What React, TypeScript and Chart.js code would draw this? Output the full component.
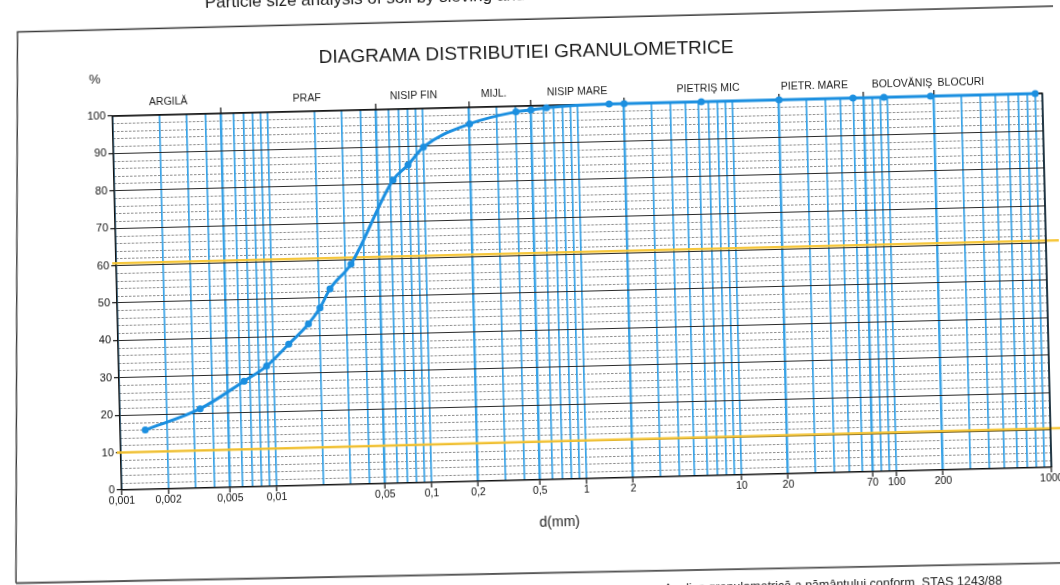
import React, { useEffect, useRef } from "react";
import { Chart, registerables } from "chart.js";

Chart.register(...registerables);

// ---- data ----
const grainDiameters = [
  0.00145, 0.0033, 0.0064, 0.009, 0.0126, 0.017, 0.0203, 0.0237, 0.0327, 0.063, 0.079, 0.1,
  0.2, 0.4, 0.5, 0.63, 1.6, 2, 6.3, 20, 60, 95, 190, 900,
];
const percentPassing = [
  15.9, 21.2, 28.3, 32.2, 37.9, 43.2, 47.4, 52.4, 58.9, 81.1, 85, 89.7,
  95.6, 98.5, 98.9, 99.4, 100, 100, 100, 100, 100, 100, 100, 100,
];
const xLabelValues = [0.001, 0.002, 0.005, 0.01, 0.05, 0.1, 0.2, 0.5, 1, 2, 10, 20, 70, 100, 200, 1000];
const yLabelValues = [0, 10, 20, 30, 40, 50, 60, 70, 80, 90, 100];
const zoneNames = ["ARGILĂ", "PRAF", "NISIP FIN", "MIJL.", "NISIP MARE", "PIETRIŞ MIC", "PIETR. MARE", "BOLOVĂNIŞ", "BLOCURI"];
const zoneCentres = [0.0023, 0.018, 0.088, 0.29, 1.0, 7, 34, 125, 300];
const zoneLimits = [0.005, 0.05, 0.2, 0.5, 2, 20, 70, 200];
const upperGuide = [60.6, 60.6];
const lowerGuide = [10, 10.45];

const titleText = "DIAGRAMA DISTRIBUTIEI GRANULOMETRICE";
const headerText = "Particle size analysis of soil by sieving and";
const footerText = "Analiza granulometrică a pământului conform  STAS 1243/88";
const xAxisTitle = "d(mm)";
const yAxisTitle = "%";

const FONT = '"Liberation Sans", Arial, Helvetica, sans-serif';
const W = 1060;
const H = 630;
const OFF = 20;

function gridValues(): number[] {
  const out: number[] = [];
  for (let e = -3; e <= 2; e++) {
    for (let m = 1; m <= 9; m++) out.push(Number((m * Math.pow(10, e)).toPrecision(3)));
  }
  out.push(1000);
  return out;
}
const near = (a: number, b: number) => Math.abs(Math.log10(a) - Math.log10(b)) < 1e-6;
const isLabel = (v: any) => typeof v === "number" && xLabelValues.some((l) => near(l, v));
const isLimit = (v: any) => typeof v === "number" && zoneLimits.some((l) => near(l, v));
const fmt = (v: number) => String(v).replace(".", ",");

const decor = {
  id: "decor",
  beforeDraw(chart: any) {
    const { ctx, chartArea: a, scales } = chart;
    const y = scales.y;
    ctx.save();
    ctx.fillStyle = "#ffffff";
    ctx.fillRect(0, 0, chart.width, chart.height);
    ctx.strokeStyle = "rgba(35,35,35,0.65)";
    ctx.lineWidth = 0.8;
    ctx.setLineDash([2.5, 1.5]);
    for (let v = 2; v < 100; v += 2) {
      if (v % 10 === 0) continue;
      const py = Math.round(y.getPixelForValue(v)) + 0.5;
      ctx.beginPath();
      ctx.moveTo(a.left, py);
      ctx.lineTo(a.right, py);
      ctx.stroke();
    }
    ctx.restore();
  },
  beforeDatasetsDraw(chart: any) {
    const { ctx, chartArea: a, scales } = chart;
    const { x, y } = scales;
    ctx.save();
    const guide = (g: number[]) => {
      const x0 = a.left - 4;
      const x1 = W + 10;
      const val = (px: number) => g[0] + ((g[1] - g[0]) * (px - a.left)) / (a.right - a.left);
      ctx.strokeStyle = "rgba(246,196,50,0.95)";
      ctx.lineWidth = 2.5;
      ctx.beginPath();
      ctx.moveTo(x0, y.getPixelForValue(val(x0)));
      ctx.lineTo(x1, y.getPixelForValue(val(x1)));
      ctx.stroke();
    };
    guide(upperGuide);
    guide(lowerGuide);
    ctx.strokeStyle = "#111";
    ctx.lineWidth = 1.5;
    ctx.beginPath();
    ctx.moveTo(a.left, a.top);
    ctx.lineTo(a.right, a.top);
    ctx.lineTo(a.right, a.bottom);
    ctx.stroke();
    ctx.lineWidth = 1.2;
    zoneLimits.forEach((l) => {
      const px = x.getPixelForValue(l);
      ctx.beginPath();
      ctx.moveTo(px, a.top);
      ctx.lineTo(px, a.top - 6);
      ctx.stroke();
    });
    ctx.restore();
  },
  afterDraw(chart: any) {
    const { ctx, chartArea: a, scales } = chart;
    const x = scales.x;
    ctx.save();
    ctx.fillStyle = "#1c1c1c";
    ctx.textBaseline = "middle";
    ctx.textAlign = "center";
    ctx.font = `19px ${FONT}`;
    ctx.fillText(titleText, 532, 53 + OFF);
    ctx.font = `13px ${FONT}`;
    ctx.fillText(yAxisTitle, 100, 69 + OFF);
    ctx.font = `10.5px ${FONT}`;
    zoneNames.forEach((n, i) => ctx.fillText(n, x.getPixelForValue(zoneCentres[i]), a.top - 13));
    ctx.font = `14px ${FONT}`;
    ctx.fillText(xAxisTitle, 554, 523 + OFF);
    ctx.textBaseline = "alphabetic";
    ctx.textAlign = "left";
    ctx.font = `17px ${FONT}`;
    ctx.fillText(headerText, 212, 0 + OFF);
    ctx.textAlign = "right";
    ctx.font = `12.5px ${FONT}`;
    ctx.fillText(footerText, 995, 596 + OFF);
    ctx.strokeStyle = "#3a3a3a";
    ctx.lineWidth = 1.4;
    ctx.beginPath();
    ctx.moveTo(1075, 19 + OFF);
    ctx.lineTo(24, 19.5 + OFF);
    ctx.lineTo(9, 570.5 + OFF);
    ctx.stroke();
    ctx.strokeStyle = "#555";
    ctx.lineWidth = 1.8;
    ctx.beginPath();
    ctx.moveTo(9, 570.5 + OFF);
    ctx.lineTo(1075, 576 + OFF);
    ctx.stroke();
    ctx.restore();
  },
};

export default function App() {
  const ref = useRef<HTMLCanvasElement | null>(null);

  useEffect(() => {
    if (!ref.current) return;
    const chart = new Chart(ref.current, {
      type: "line",
      data: {
        datasets: [
          {
            data: grainDiameters.map((d, i) => ({ x: d, y: percentPassing[i] })),
            borderColor: "#1b8fe0",
            backgroundColor: "#1b8fe0",
            borderWidth: 3,
            pointRadius: 3.5,
            pointHoverRadius: 3.5,
            pointBorderWidth: 0,
            cubicInterpolationMode: "monotone",
            fill: false,
            clip: false,
          } as any,
        ],
      },
      options: {
        responsive: false,
        animation: false,
        devicePixelRatio: 1,
        events: [],
        layout: { padding: { left: 0, right: 13, top: 126, bottom: 100 } },
        plugins: {
          legend: { display: false },
          tooltip: { enabled: false },
          title: { display: false },
        },
        scales: {
          x: {
            type: "logarithmic",
            position: "bottom",
            min: 0.001,
            max: 1000,
            afterBuildTicks: (s: any) => {
              s.ticks = gridValues().map((v) => ({ value: v }));
            },
            afterFit: (s: any) => {
              s.height = 30;
              s.paddingLeft = 0;
              s.paddingRight = 0;
            },
            ticks: {
              autoSkip: false,
              maxRotation: 0,
              minRotation: 0,
              padding: 0,
              color: "#111",
              font: { family: FONT, size: 10.5 },
              callback: (v: any) => (isLabel(Number(v)) ? fmt(Number(v)) : ""),
            },
            grid: {
              color: "#3aa3e6",
              lineWidth: (c: any) => (isLimit(c.tick && c.tick.value) ? 2.4 : 1.7),
              drawTicks: true,
              tickLength: 5,
              tickWidth: 1.2,
              tickColor: (c: any) => (isLabel(c.tick && c.tick.value) ? "#111" : "rgba(0,0,0,0)"),
            },
            border: { display: true, color: "#111", width: 1.5 },
          } as any,
          y: {
            type: "linear",
            min: 0,
            max: 100,
            afterBuildTicks: (s: any) => {
              s.ticks = yLabelValues.map((v) => ({ value: v }));
            },
            afterFit: (s: any) => {
              s.width = 117;
              s.paddingTop = 0;
              s.paddingBottom = 0;
            },
            ticks: {
              padding: 2,
              color: "#111",
              font: { family: FONT, size: 11 },
              callback: (v: any) => String(v),
            },
            grid: {
              color: "#2a2a2a",
              lineWidth: 1.1,
              drawTicks: true,
              tickLength: 5,
              tickWidth: 1.2,
              tickColor: "#111",
            },
            border: { display: true, color: "#111", width: 1.5 },
          } as any,
        },
      },
      plugins: [decor],
    });
    return () => chart.destroy();
  }, []);

  return (
    <div
      style={{
        position: "fixed",
        left: 0,
        top: -OFF,
        width: W,
        height: H,
        transform: "rotate(-1.4deg)",
        transformOrigin: `530px ${292 + OFF}px`,
        background: "#fff",
      }}
    >
      <canvas ref={ref} width={W} height={H} style={{ display: "block", width: W, height: H }} />
    </div>
  );
}
